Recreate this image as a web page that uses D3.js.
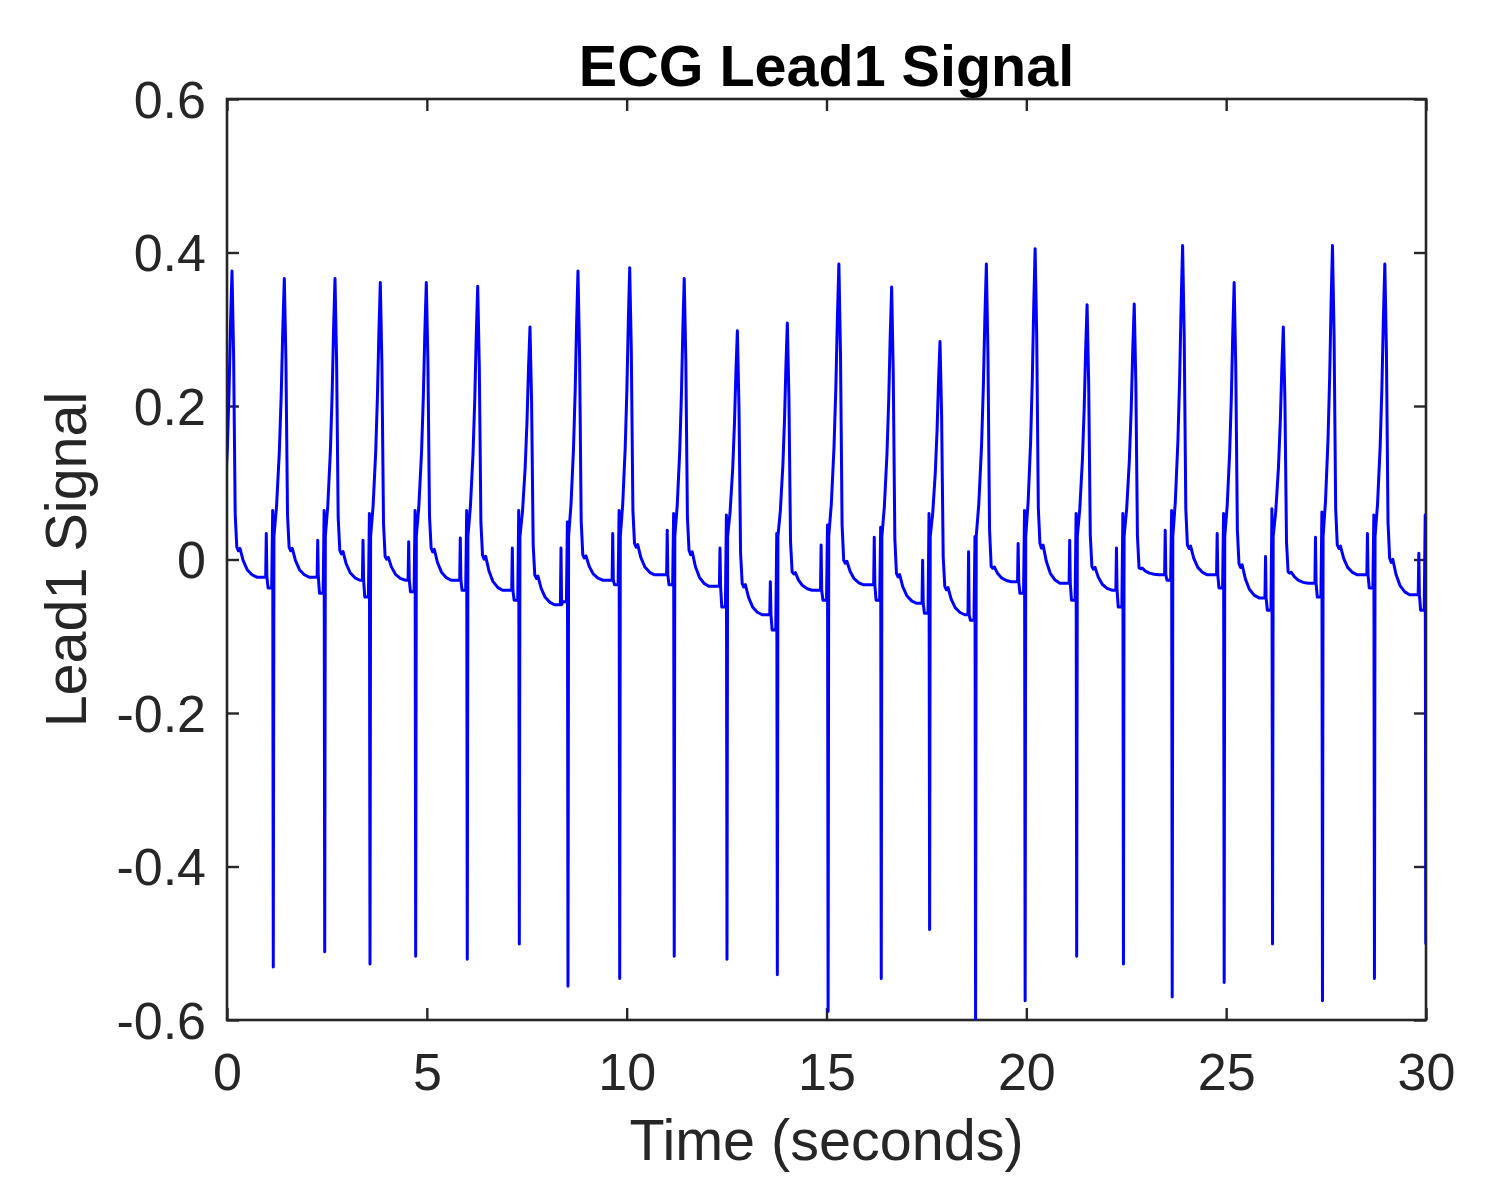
<!DOCTYPE html>
<html>
<head>
<meta charset="utf-8">
<script src="https://cdn.jsdelivr.net/npm/d3@7"></script>
<style>
  body { margin: 0; background: #fff; }
  svg { display: block; }
  .tick text { font-family: "Liberation Sans", Arial, Helvetica, sans-serif; }
</style>
</head>
<body>
<div id="chart"></div>
<script>
// ---- data ----
// one entry per heart beat (beat 0 starts before t = 0)
const troughT = [-0.135, 1.158, 2.445, 3.578, 4.721, 6.012, 7.314, 8.532, 9.826, 11.19, 12.51, 13.77,
  15.04, 16.37, 17.58, 18.73, 19.97, 21.26, 22.43, 23.65, 24.95, 26.16, 27.41, 28.71, 29.995];
const troughV = [-0.53, -0.531, -0.511, -0.527, -0.517, -0.521, -0.501, -0.556, -0.546, -0.517, -0.521, -0.541,
  -0.589, -0.546, -0.482, -0.61, -0.575, -0.517, -0.527, -0.570, -0.551, -0.501, -0.575, -0.546, -0.50];
const peakT = [0.125, 1.434, 2.702, 3.836, 4.987, 6.273, 7.581, 8.782, 10.076, 11.44, 12.77, 14.02,
  15.31, 16.63, 17.84, 19.00, 20.22, 21.52, 22.70, 23.91, 25.20, 26.43, 27.66, 28.97, 30.25];
const peakV = [0.376, 0.366, 0.366, 0.361, 0.361, 0.356, 0.303, 0.376, 0.380, 0.366, 0.298, 0.308,
  0.385, 0.355, 0.284, 0.385, 0.405, 0.332, 0.333, 0.409, 0.361, 0.303, 0.409, 0.385, 0.38];
// level right after the tall wave falls back
const postV = [0.016, 0.016, 0.012, 0.004, 0.015, 0.006, -0.020, 0.006, 0.021, 0.012, -0.031, -0.016,
  -0.001, -0.018, -0.035, -0.009, 0.021, -0.009, -0.011, 0.019, -0.005, -0.016, 0.019, 0.002, 0.0];
// baseline and small deflections just before each trough
const baseV = [-0.023, -0.023, -0.023, -0.027, -0.027, -0.027, -0.040, -0.059, -0.027, -0.020, -0.035, -0.072,
  -0.040, -0.033, -0.057, -0.072, -0.029, -0.031, -0.040, -0.020, -0.020, -0.050, -0.031, -0.020, -0.046];
const pTopV = [0.034, 0.034, 0.025, 0.025, 0.023, 0.028, 0.015, 0.015, 0.034, 0.038, 0.015, -0.029,
  0.019, 0.029, -0.001, 0.010, 0.021, 0.025, 0.015, 0.038, 0.034, 0.004, 0.029, 0.034, 0.008];
const dipV = [-0.037, -0.037, -0.044, -0.049, -0.042, -0.040, -0.053, -0.055, -0.033, -0.033, -0.062, -0.092,
  -0.053, -0.053, -0.070, -0.079, -0.044, -0.053, -0.062, -0.027, -0.037, -0.066, -0.049, -0.037, -0.066];
const rUpV = [0.064, 0.064, 0.064, 0.060, 0.064, 0.064, 0.064, 0.049, 0.064, 0.060, 0.058, 0.034,
  0.045, 0.042, 0.060, 0.030, 0.064, 0.060, 0.060, 0.064, 0.060, 0.066, 0.062, 0.058, 0.058];

// beat outline read from one beat: [seconds from trough, which level]
const preShape = [[-0.19, 'base'], [-0.175, 'pTop'], [-0.16, 'base'], [-0.13, 'dip'], [-0.04, 'dip'], [-0.015, 'rUp']];
const riseStart = 0.03;
// [share of trough->peak time, share of rise]
const riseShape = [[0.06, 0], [0.3, 0.12], [0.55, 0.33], [0.72, 0.55], [0.86, 0.8]];
// [seconds after peak, share of post->peak]
const fallShape = [[0.04, 0.7], [0.08, 0.12], [0.12, 0]];
// [seconds after peak, share of post->next baseline]
const tailShape = [[0.16, 0.12], [0.2, 0.04], [0.28, 0.45], [0.38, 0.75], [0.5, 0.92], [0.62, 1]];

const xTicks = [0, 5, 10, 15, 20, 25, 30];
const yTicks = [-0.6, -0.4, -0.2, 0, 0.2, 0.4, 0.6];
const yTickLabels = ['-0.6', '-0.4', '-0.2', '0', '0.2', '0.4', '0.6'];

// ---- layout ----
const W = 1502, H = 1197;
const plot = { l: 227, r: 1426, t: 99, b: 1020 };
const axisColor = '#262626';
const font = '"Liberation Sans", Arial, Helvetica, sans-serif';

const series = [];
troughT.forEach((tt, k) => {
  const lv = { base: baseV[k], pTop: pTopV[k], dip: dipV[k], rUp: rUpV[k] };
  preShape.forEach(([dt, key]) => series.push([tt + dt, lv[key]]));
  series.push([tt, troughV[k]]);
  const span = peakT[k] - tt;
  riseShape.forEach(([ft, fv]) => series.push([tt + ft * span, riseStart + fv * (peakV[k] - riseStart)]));
  series.push([peakT[k], peakV[k]]);
  fallShape.forEach(([dt, fv]) => series.push([peakT[k] + dt, postV[k] + fv * (peakV[k] - postV[k])]));
  if (k + 1 < troughT.length) {
    tailShape.forEach(([dt, fv]) => series.push([peakT[k] + dt, postV[k] + fv * (baseV[k + 1] - postV[k])]));
  }
});

const x = d3.scaleLinear().domain([0, 30]).range([plot.l, plot.r]);
const y = d3.scaleLinear().domain([-0.6, 0.6]).range([plot.b, plot.t]);

const svg = d3.select('#chart').append('svg')
  .attr('width', W)
  .attr('height', H);

svg.append('rect').attr('width', W).attr('height', H).style('fill', '#fff');

svg.append('clipPath')
  .attr('id', 'plot-clip')
  .append('rect')
  .attr('x', plot.l)
  .attr('y', plot.t)
  .attr('width', plot.r - plot.l)
  .attr('height', plot.b - plot.t);

// axes, ticks pointing inward on all four sides
const styleAxis = (g) => {
  g.select('.domain').remove();
  g.selectAll('.tick line').style('stroke', axisColor).style('stroke-width', 2.4);
  g.selectAll('.tick text')
    .style('fill', axisColor)
    .style('font-size', '52px')
    .style('font-family', font);
};

svg.append('g')
  .attr('transform', `translate(0, ${plot.b})`)
  .call(d3.axisBottom(x).tickValues(xTicks).tickSize(-12).tickPadding(33).tickFormat(d3.format('d')))
  .call(styleAxis);

svg.append('g')
  .attr('transform', `translate(0, ${plot.t})`)
  .call(d3.axisTop(x).tickValues(xTicks).tickSize(-12).tickFormat(''))
  .call(styleAxis);

svg.append('g')
  .attr('transform', `translate(${plot.l}, 0)`)
  .call(d3.axisLeft(y).tickValues(yTicks).tickSize(-12).tickPadding(21)
    .tickFormat((d, i) => yTickLabels[i]))
  .call(styleAxis)
  .selectAll('.tick text')
  .attr('dy', '0.35em');

svg.append('g')
  .attr('transform', `translate(${plot.r}, 0)`)
  .call(d3.axisRight(y).tickValues(yTicks).tickSize(-12).tickFormat(''))
  .call(styleAxis);

svg.append('rect')
  .attr('x', plot.l)
  .attr('y', plot.t)
  .attr('width', plot.r - plot.l)
  .attr('height', plot.b - plot.t)
  .style('fill', 'none')
  .style('stroke', axisColor)
  .style('stroke-width', 2.6);

// signal
svg.append('path')
  .datum(series)
  .attr('clip-path', 'url(#plot-clip)')
  .attr('d', d3.line().x((d) => x(d[0])).y((d) => y(d[1])))
  .style('fill', 'none')
  .style('stroke', '#0000ff')
  .style('stroke-width', 3)
  .style('stroke-linejoin', 'round');

// texts
svg.append('text')
  .attr('x', (plot.l + plot.r) / 2)
  .attr('y', 86)
  .attr('text-anchor', 'middle')
  .style('font-family', font)
  .style('font-weight', 700)
  .style('font-size', '57.5px')
  .style('fill', '#000')
  .text('ECG Lead1 Signal');

svg.append('text')
  .attr('x', (plot.l + plot.r) / 2)
  .attr('y', 1160)
  .attr('text-anchor', 'middle')
  .style('font-family', font)
  .style('font-size', '57.5px')
  .style('fill', axisColor)
  .text('Time (seconds)');

svg.append('text')
  .attr('transform', `translate(86, ${(plot.t + plot.b) / 2}) rotate(-90)`)
  .attr('text-anchor', 'middle')
  .style('font-family', font)
  .style('font-size', '57.5px')
  .style('fill', axisColor)
  .text('Lead1 Signal');
</script>
</body>
</html>
